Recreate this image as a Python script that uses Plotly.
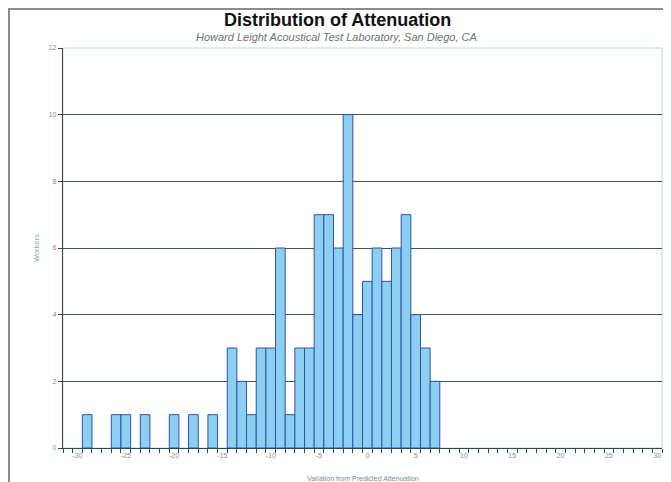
import plotly.graph_objects as go

# Data
variation_db = [-29, -26, -25, -23, -20, -18, -16, -14, -13, -12, -11, -10, -9, -8,
                -7, -6, -5, -4, -3, -2, -1, 0, 1, 2, 3, 4, 5, 6, 7]
workers = [1, 1, 1, 1, 1, 1, 1, 3, 2, 1, 3, 3, 6, 1,
           3, 3, 7, 7, 6, 10, 4, 5, 6, 5, 6, 7, 4, 3, 2]
x_tick_values = [-30, -25, -20, -15, -10, -5, 0, 5, 10, 15, 20, 25, 30]
x_tick_labels = [str(v) for v in x_tick_values]
y_tick_values = [0, 2, 4, 6, 8, 10, 12]

title_text = "Distribution of Attenuation"
subtitle_text = "Howard Leight Acoustical Test Laboratory, San Diego, CA"
x_title = "Variation from Predicted Attenuation"
y_title = "Workers"

# The page places the figure 8px in from the top-left corner (body margin),
# so the figure is sized to the remaining window area.
FIG_W, FIG_H = 663, 474
L, R, T, B = 55, 9, 40, 34
PW, PH = FIG_W - L - R, FIG_H - T - B


def px(x):
    return (x - L) / PW


def py(y):
    return (FIG_H - B - y) / PH


fig = go.Figure()
fig.add_trace(go.Bar(
    x=variation_db, y=workers, width=1,
    marker=dict(color="#8DCFF0", line=dict(color="#3050B0", width=1)),
))

fig.update_layout(
    width=FIG_W, height=FIG_H,
    margin=dict(l=L, r=R, t=T, b=B, autoexpand=False),
    paper_bgcolor="white", plot_bgcolor="white",
    showlegend=False,
    font=dict(family="Liberation Sans, Arial, sans-serif"),
    annotations=[
        dict(text="<b>" + title_text + "</b>", xref="paper", yref="paper",
             x=px(329), y=py(12), xanchor="center", yanchor="middle",
             showarrow=False, font=dict(size=18, color="#111111")),
        dict(text="<i>" + subtitle_text + "</i>", xref="paper", yref="paper",
             x=px(328), y=py(29), xanchor="center", yanchor="middle",
             showarrow=False, font=dict(size=11, color="#707070")),
        dict(text=x_title, xref="paper", yref="paper",
             x=0.5, y=py(470), xanchor="center", yanchor="middle",
             showarrow=False, font=dict(size=7, color="#7C8C96")),
        dict(text=y_title, xref="paper", yref="paper", textangle=-90,
             x=px(28), y=0.5, xanchor="center", yanchor="middle",
             showarrow=False, font=dict(size=7.5, color="#8AAAC0")),
    ],
    shapes=[
        dict(type="rect", xref="paper", yref="paper", x0=0, x1=1, y0=0, y1=1,
             line=dict(color="#B5DCEB", width=1), layer="below"),
        dict(type="rect", xref="paper", yref="paper",
             x0=px(1), x1=1.2, y0=-0.3, y1=py(1),
             line=dict(color="#8C8C8C", width=2)),
    ],
)

fig.update_xaxes(
    range=[-31.5, 30.5], automargin=False,
    tickvals=x_tick_values, ticktext=x_tick_labels,
    ticks="", showgrid=False, zeroline=False,
    showline=True, linecolor="#2F4A4A", linewidth=1.2,
    tickfont=dict(size=7, color="#8A8A8A"),
    minor=dict(dtick=1, tick0=0.5, ticks="outside", ticklen=4,
               tickcolor="#2F4A4A", showgrid=False),
)
fig.update_yaxes(
    range=[0, 12], tickvals=y_tick_values, automargin=False,
    ticks="outside", ticklen=4, tickcolor="#2F4A4A",
    showgrid=True, gridcolor="#3A5858", gridwidth=1.2,
    zeroline=False, showline=True, linecolor="#2F4A4A", linewidth=1.2,
    tickfont=dict(size=7, color="#8A8A8A"),
)

fig.write_html("out.html")
